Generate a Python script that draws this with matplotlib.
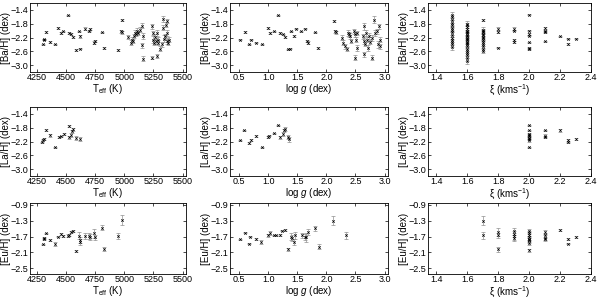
import matplotlib
matplotlib.use("Agg")
import matplotlib.pyplot as plt

plt.rcParams['font.family'] = ['Liberation Sans', 'DejaVu Sans']
plt.rcParams['font.size'] = 7
plt.rcParams['mathtext.fontset'] = 'custom'
plt.rcParams['mathtext.rm'] = 'Liberation Sans'
plt.rcParams['mathtext.it'] = 'Liberation Sans:italic'

# ---------------- [Ba/H] ----------------
ba_teff = [4300, 4308, 4314, 4329, 4359, 4402, 4431, 4459, 4474, 4517, 4522, 4542, 4559, 4588,
           4613, 4616, 4622, 4659, 4693, 4707, 4741, 4747, 4807, 4827, 4949, 4970, 4978, 4983,
           5035, 5058, 5064, 5077, 5083, 5092, 5100, 5112, 5120, 5135, 5149, 5149, 5158, 5158,
           5235, 5240, 5243, 5248, 5257, 5263, 5271, 5277, 5277, 5286, 5291, 5306, 5320, 5329,
           5334, 5340, 5348, 5354, 5363, 5363, 5371, 5376, 5382]
ba_teff_val = [-2.40, -2.26, -2.25, -2.04, -2.33, -2.40, -1.92, -2.07, -2.02, -1.56, -2.07, -2.10,
               -2.18, -2.56, -2.02, -2.16, -2.52, -1.94, -2.02, -1.95, -2.35, -2.30, -2.05, -2.50,
               -2.56, -2.02, -1.69, -2.05,
               -2.18, -2.35, -2.26, -2.30, -2.16, -2.07, -2.10, -2.00, -2.07, -1.97, -1.86, -2.43,
               -2.81, -2.16, -2.78, -1.88, -2.07, -2.26, -2.35, -2.18, -2.30, -2.07, -2.73, -2.35,
               -2.26, -2.52, -2.40, -1.92, -1.67, -2.24, -2.16, -1.83, -1.71, -2.30, -2.07, -2.35,
               -2.26]
ba_teff_err = [0.02, 0.02, 0.02, 0.02, 0.02, 0.02, 0.02, 0.02, 0.02, 0.02, 0.02, 0.02, 0.02, 0.02,
               0.02, 0.04, 0.02, 0.03, 0.02, 0.02, 0.05, 0.04, 0.02, 0.03, 0.03, 0.04, 0.03, 0.05,
               0.06, 0.07, 0.08, 0.07, 0.06, 0.08, 0.07, 0.08, 0.06, 0.07, 0.07, 0.08, 0.06, 0.08,
               0.05, 0.08, 0.07, 0.09, 0.08, 0.07, 0.08, 0.09, 0.06, 0.07, 0.08, 0.07, 0.08, 0.07,
               0.09, 0.10, 0.07, 0.08, 0.06, 0.09, 0.08, 0.07, 0.08]

ba_logg = [0.51, 0.59, 0.66, 0.70, 0.79, 0.89, 1.00, 1.02, 1.10, 1.16, 1.20, 1.25, 1.29, 1.33,
           1.37, 1.39, 1.44, 1.47, 1.56, 1.63, 1.66, 1.69, 1.81, 1.86, 2.13, 2.14, 2.17,
           2.27, 2.29, 2.32, 2.35, 2.37, 2.38, 2.40, 2.42, 2.47, 2.50, 2.51, 2.52, 2.53, 2.50,
           2.64, 2.65, 2.63, 2.65, 2.67, 2.68, 2.70, 2.72, 2.74, 2.75, 2.78, 2.79, 2.82, 2.84,
           2.87, 2.88, 2.90, 2.93, 2.93]
ba_logg_val = [-2.26, -2.04, -2.40, -2.26, -2.35, -2.40, -1.92, -2.07, -2.02, -1.56, -2.07, -2.11,
               -2.18, -2.54, -2.52, -2.02, -2.16, -1.94, -2.02, -1.94, -2.30, -2.35, -2.05, -2.50,
               -1.71, -2.02, -2.05,
               -2.21, -2.35, -2.45, -2.54, -2.07, -2.11, -2.16, -2.30, -2.02, -2.11, -2.26, -2.50,
               -2.07, -2.78, -2.69, -1.88, -2.16, -2.30, -2.40, -2.07, -2.26, -2.50, -2.16, -2.33,
               -2.21, -2.78, -1.69, -2.07, -2.02, -2.40, -1.88, -2.45, -2.26]
ba_logg_err = [0.02, 0.02, 0.02, 0.02, 0.02, 0.02, 0.02, 0.02, 0.02, 0.02, 0.02, 0.02, 0.02, 0.02,
               0.02, 0.02, 0.02, 0.02, 0.02, 0.02, 0.03, 0.04, 0.02, 0.03, 0.03, 0.04, 0.05,
               0.07, 0.08, 0.07, 0.06, 0.08, 0.07, 0.08, 0.06, 0.07, 0.08, 0.07, 0.09, 0.06, 0.07,
               0.08, 0.09, 0.07, 0.08, 0.06, 0.08, 0.07, 0.09, 0.08, 0.07, 0.08, 0.06, 0.10, 0.08,
               0.07, 0.09, 0.08, 0.07, 0.08]

ba_xi = [1.5, 1.5, 1.5, 1.5, 1.5, 1.5, 1.5, 1.5, 1.5, 1.5, 1.5, 1.5, 1.5, 1.5,
         1.6, 1.6, 1.6, 1.6, 1.6, 1.6, 1.6, 1.6, 1.6, 1.6, 1.6, 1.6, 1.6, 1.6, 1.6, 1.6,
         1.6, 1.6, 1.6, 1.6, 1.6, 1.6,
         1.7, 1.7, 1.7, 1.7, 1.7, 1.7, 1.7, 1.7, 1.7, 1.7, 1.7, 1.7, 1.7, 1.7,
         1.8, 1.8, 1.8, 1.9, 1.9, 1.9, 1.9,
         2.0, 2.0, 2.0, 2.0, 2.0, 2.0, 2.0, 2.1, 2.1, 2.1, 2.1, 2.2, 2.25, 2.25, 2.3]
ba_xi_val = [-1.54, -1.62, -1.70, -1.78, -1.85, -1.92, -1.98, -2.05, -2.12, -2.20, -2.26, -2.33,
             -2.40, -2.48,
             -1.80, -1.85, -1.90, -1.95, -2.00, -2.05, -2.08, -2.12, -2.15, -2.20, -2.23, -2.27,
             -2.32, -2.36, -2.40, -2.46, -2.52, -2.58, -2.65, -2.72, -2.80, -2.88,
             -1.69, -1.97, -2.01, -2.05, -2.09, -2.13, -2.18, -2.22, -2.27, -2.32, -2.38, -2.44,
             -2.52, -2.59,
             -1.94, -2.05, -2.49, -1.94, -2.00, -2.26, -2.33,
             -1.54, -2.00, -2.10, -2.15, -2.34, -2.49, -2.54, -1.92, -2.00, -2.05, -2.31,
             -2.17, -2.23, -2.39, -2.23]
ba_xi_err = [0.07, 0.08, 0.07, 0.08, 0.07, 0.08, 0.07, 0.08, 0.07, 0.08, 0.07, 0.08, 0.07, 0.08,
             0.07, 0.08, 0.07, 0.08, 0.07, 0.08, 0.07, 0.08, 0.07, 0.08, 0.07, 0.08, 0.07, 0.08,
             0.07, 0.08, 0.07, 0.08, 0.07, 0.08, 0.07, 0.08,
             0.04, 0.06, 0.07, 0.06, 0.07, 0.06, 0.07, 0.06, 0.07, 0.06, 0.07, 0.06, 0.07, 0.06,
             0.04, 0.03, 0.02, 0.03, 0.02, 0.03, 0.02,
             0.02, 0.02, 0.02, 0.02, 0.02, 0.02, 0.02, 0.03, 0.02, 0.02, 0.02, 0.02, 0.02, 0.02,
             0.02]

# ---------------- [La/H] ----------------
la_teff = [4294, 4303, 4308, 4329, 4359, 4402, 4436, 4457, 4479, 4522, 4528, 4545, 4551, 4559,
           4588, 4622]
la_teff_val = [-2.22, -2.15, -2.13, -1.88, -2.02, -2.37, -2.08, -2.05, -1.98, -1.75, -2.08, -2.01,
               -1.91, -1.85, -2.10, -2.13]
la_teff_err = [0.02, 0.02, 0.03, 0.03, 0.04, 0.02, 0.03, 0.02, 0.03, 0.02, 0.04, 0.05, 0.05, 0.05,
               0.07, 0.06]

la_logg = [0.52, 0.58, 0.67, 0.70, 0.79, 0.89, 1.00, 1.01, 1.10, 1.16, 1.20, 1.25, 1.27, 1.29,
           1.33, 1.36]
la_logg_val = [-2.17, -1.88, -2.24, -2.16, -2.03, -2.37, -2.08, -2.03, -1.96, -1.73, -2.08, -1.98,
               -1.88, -1.83, -2.08, -2.13]
la_logg_err = [0.02, 0.02, 0.02, 0.03, 0.03, 0.02, 0.03, 0.02, 0.02, 0.02, 0.04, 0.05, 0.05, 0.06,
               0.06, 0.07]

la_xi = [2.0, 2.0, 2.0, 2.0, 2.0, 2.0, 2.0, 2.0, 2.0, 2.1, 2.1, 2.1, 2.2, 2.25, 2.25, 2.3]
la_xi_val = [-1.73, -1.88, -1.98, -2.02, -2.05, -2.10, -2.13, -2.17, -2.37, -1.88, -2.03, -2.08,
             -1.88, -2.16, -2.22, -2.13]
la_xi_err = [0.02, 0.02, 0.03, 0.03, 0.02, 0.03, 0.02, 0.03, 0.02, 0.02, 0.04, 0.03, 0.05, 0.03,
             0.02, 0.02]

# ---------------- [Eu/H] ----------------
eu_teff = [4300, 4308, 4314, 4329, 4359, 4402, 4431, 4459, 4474, 4517, 4522, 4542, 4559, 4588,
           4613, 4616, 4622, 4659, 4693, 4707, 4741, 4747, 4807, 4827, 4949, 4978]
eu_teff_val = [-1.90, -1.76, -1.74, -1.62, -1.78, -1.88, -1.70, -1.64, -1.68, -1.68, -1.66, -1.58,
               -1.56, -2.06, -1.68, -1.78, -1.84, -1.69, -1.68, -1.72, -1.62, -1.72, -1.48, -2.02,
               -1.68, -1.28]
eu_teff_err = [0.02, 0.03, 0.03, 0.02, 0.03, 0.05, 0.02, 0.02, 0.02, 0.04, 0.03, 0.02, 0.02, 0.03,
               0.09, 0.08, 0.07, 0.07, 0.07, 0.08, 0.11, 0.07, 0.06, 0.05, 0.08, 0.12]

eu_logg = [0.51, 0.59, 0.66, 0.68, 0.78, 0.87, 0.99, 1.02, 1.10, 1.14, 1.20, 1.24, 1.28, 1.33,
           1.39, 1.41, 1.44, 1.46, 1.58, 1.63, 1.65, 1.69, 1.81, 1.88, 2.12, 2.33]
eu_logg_val = [-1.77, -1.60, -1.88, -1.70, -1.77, -1.84, -1.67, -1.61, -1.67, -1.67, -1.66, -1.55,
               -1.53, -2.02, -1.71, -1.74, -1.84, -1.67, -1.67, -1.71, -1.72, -1.59, -1.49, -1.96,
               -1.30, -1.67]
eu_logg_err = [0.02, 0.02, 0.02, 0.02, 0.03, 0.05, 0.03, 0.04, 0.02, 0.02, 0.03, 0.02, 0.02, 0.04,
               0.09, 0.07, 0.07, 0.08, 0.07, 0.08, 0.11, 0.07, 0.06, 0.06, 0.12, 0.08]

eu_xi = [1.7, 1.7, 1.8, 1.8, 1.8, 1.9, 1.9, 1.9, 1.9, 2.0, 2.0, 2.0, 2.0, 2.0, 2.0, 2.0, 2.0, 2.0,
         2.1, 2.1, 2.1, 2.1, 2.2, 2.25, 2.25, 2.3]
eu_xi_val = [-1.30, -1.67, -1.59, -1.67, -2.02, -1.57, -1.64, -1.69, -1.74, -1.55, -1.62, -1.67,
             -1.71, -1.75, -1.78, -1.80, -1.86, -2.05, -1.59, -1.67, -1.73, -1.77, -1.53, -1.77,
             -1.88, -1.71]
eu_xi_err = [0.12, 0.08, 0.10, 0.07, 0.06, 0.08, 0.07, 0.09, 0.07, 0.04, 0.06, 0.07, 0.08, 0.07,
             0.06, 0.07, 0.06, 0.04, 0.05, 0.07, 0.06, 0.05, 0.03, 0.03, 0.02, 0.02]

teff_ticks = [4250, 4500, 4750, 5000, 5250, 5500]
logg_ticks = [0.5, 1.0, 1.5, 2.0, 2.5, 3.0]
xi_ticks = [1.4, 1.6, 1.8, 2.0, 2.2, 2.4]
bala_yticks = [-1.4, -1.8, -2.2, -2.6, -3.0]
eu_yticks = [-0.9, -1.3, -1.7, -2.1, -2.5]

W, H = 600, 298
fig = plt.figure(figsize=(W / 100, H / 100), dpi=100)

col_px = [(30, 186), (230, 388), (428, 591)]
row_px = [(3, 72), (107, 176), (203, 274)]

panels = [
    [(ba_teff, ba_teff_val, ba_teff_err), (ba_logg, ba_logg_val, ba_logg_err), (ba_xi, ba_xi_val, ba_xi_err)],
    [(la_teff, la_teff_val, la_teff_err), (la_logg, la_logg_val, la_logg_err), (la_xi, la_xi_val, la_xi_err)],
    [(eu_teff, eu_teff_val, eu_teff_err), (eu_logg, eu_logg_val, eu_logg_err), (eu_xi, eu_xi_val, eu_xi_err)],
]
ylabels = ['[Ba/H] (dex)', '[La/H] (dex)', '[Eu/H] (dex)']
xlabels = [r'T$_{\rm eff}$ (K)', r'log $g$ (dex)', r'ξ (kms$^{-1}$)']
xlims = [(4190, 5530), (0.34, 3.06), (1.345, 2.40)]
xticks = [teff_ticks, logg_ticks, xi_ticks]
ylims = [(-3.2, -1.2), (-3.2, -1.2), (-2.65, -0.85)]
yticks = [bala_yticks, bala_yticks, eu_yticks]

for r in range(3):
    for c in range(3):
        x0, x1 = col_px[c]
        y0, y1 = row_px[r]
        ax = fig.add_axes([x0 / W, 1 - y1 / H, (x1 - x0) / W, (y1 - y0) / H])
        x, y, e = panels[r][c]
        ax.errorbar(x, y, yerr=e, fmt='none', ecolor='#909090', elinewidth=0.5,
                    capsize=1.3, capthick=0.5)
        ax.plot(x, y, 'x', color='black', ms=1.8, mew=0.5)
        ax.set_xlim(xlims[c])
        ax.set_ylim(ylims[r])
        ax.set_xticks(xticks[c])
        ax.set_yticks(yticks[r])
        ax.set_xticklabels([f'{t:g}' if c == 0 else f'{t:.1f}' for t in xticks[c]])
        ax.set_yticklabels([f'{t:.1f}'.replace('-', '\u2212') for t in yticks[r]])
        ax.tick_params(direction='in', top=True, right=True, length=2.5, width=0.5,
                       labelsize=6.5)
        ax.tick_params(axis='x', pad=1)
        ax.tick_params(axis='y', pad=1)
        for s in ax.spines.values():
            s.set_linewidth(0.6)
        ax.set_ylabel(ylabels[r], fontsize=7, labelpad=0)
        ax.set_xlabel(xlabels[c], fontsize=7, labelpad=0)

fig.savefig('out.png', dpi=100)
